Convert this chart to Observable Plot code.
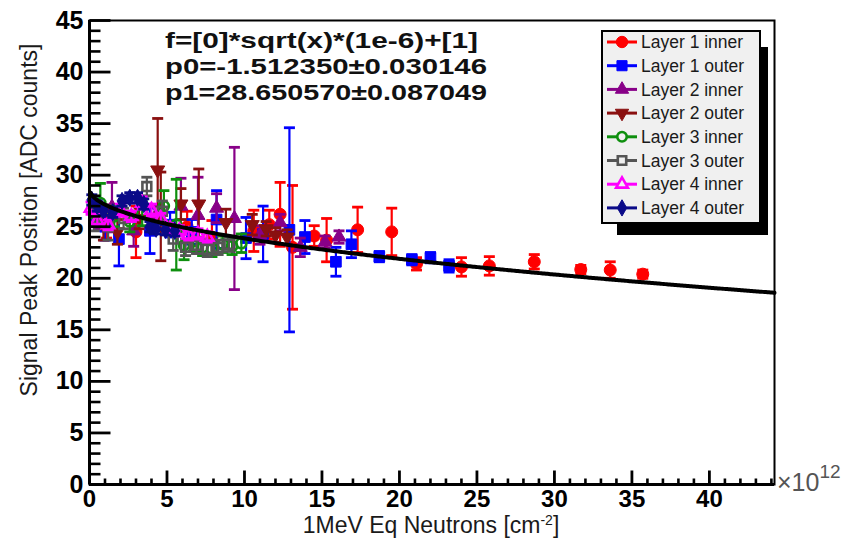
<!DOCTYPE html>
<html><head><meta charset="utf-8">
<script src="https://cdn.jsdelivr.net/npm/d3@7"></script>
<script src="https://cdn.jsdelivr.net/npm/@observablehq/plot@0.6"></script>
<style>
html,body{margin:0;padding:0;background:#fff;}
#chart{position:relative;width:850px;height:539px;overflow:hidden;}
</style></head><body><div id="chart"></div>
<script>
// ---------- data (x in units of 1e12 n/cm^2, y in ADC counts) ----------
const layerNames = ["Layer 1 inner","Layer 1 outer","Layer 2 inner","Layer 2 outer","Layer 3 inner","Layer 3 outer","Layer 4 inner","Layer 4 outer"];
const layerColors = ["#ff0000","#0000ff","#880088","#8a1010","#0e8f0e","#555555","#ff00ff","#0a0a88"];
const layerMarkers = ["circle","square","triangle","triangleDown","circleOpen","squareOpen","triangleOpen","diamond"];

const l1InnerX = [0.4,1.1,3.0,6.3,7.9,10.6,11.6,12.3,13.1,14.5,15.3,17.3,19.5,21.1,24.0,25.8,28.7,31.7,33.6,35.7];
const l1InnerY = [26.2,25.5,24.5,25.0,24.0,24.6,25.2,26.2,23.0,24.1,23.7,24.7,24.5,21.4,21.1,21.2,21.6,20.85,20.8,20.4];
const l1InnerE = [1.0,1.6,2.5,1.5,1.6,2.0,1.4,3.1,6.0,1.0,2.1,2.2,2.3,0.6,0.9,0.9,0.7,0.4,0.8,0.4];

const l1OuterX = [0.3,1.0,1.9,3.9,5.2,6.6,8.2,10.1,11.2,12.9,13.9,15.9,16.9,18.7,20.8,22.0,23.2];
const l1OuterY = [26.0,25.0,23.8,24.6,25.2,24.5,25.7,23.9,24.3,24.7,24.0,21.6,23.3,22.1,21.8,22.0,21.2];
const l1OuterE = [0.8,1.3,2.6,2.2,1.2,1.2,2.8,2.0,2.7,9.9,1.6,1.4,1.3,0.5,0.5,0.5,0.6];

const l2InnerX = [0.6,1.45,2.85,4.2,5.9,7.0,8.2,9.35,11.0,12.3,13.6,15.2,16.1];
const l2InnerY = [26.0,26.9,24.6,25.8,27.0,26.1,26.8,25.8,24.2,25.4,23.0,23.5,24.0];
const l2InnerE = [1.2,2.4,1.5,1.2,2.7,3.7,1.4,6.9,0.9,0.8,0.9,0.6,0.6];

const l2OuterX = [0.9,1.8,3.2,4.4,4.6,5.9,7.05,8.8,10.5,11.4,12.0,12.75];
const l2OuterY = [25.2,24.5,25.8,30.5,26.0,27.2,27.2,25.4,25.2,24.8,24.2,24.0];
const l2OuterE = [1.5,1.2,1.0,5.0,4.3,1.5,3.4,1.3,1.0,0.7,0.7,0.7];

const l3InnerX = [0.3,0.7,1.6,2.6,3.4,4.8,5.6,6.1,6.7,7.3,7.9,8.6,9.2,9.8];
const l3InnerY = [26.3,27.3,26.0,25.5,26.3,27.0,25.2,23.2,23.6,23.0,22.9,23.3,23.1,23.4];
const l3InnerE = [1.0,1.9,1.0,1.0,1.2,1.5,4.4,1.4,1.0,0.8,0.8,0.8,0.8,0.9];

const l3OuterX = [0.3,1.2,2.2,3.7,4.7,5.4,6.2,6.9,7.6,8.3,9.0];
const l3OuterY = [25.6,25.0,25.8,28.9,26.5,23.8,23.0,23.2,22.8,23.0,23.3];
const l3OuterE = [1.0,1.3,1.0,0.9,1.0,1.1,0.8,0.8,0.7,0.7,0.7];

const l4InnerX = [0.1,0.5,1.2,2.0,2.7,3.4,4.0,4.6,5.2,5.8,6.4,7.0,7.6];
const l4InnerY = [26.8,25.6,25.2,26.6,26.0,27.3,26.6,25.8,24.8,24.6,24.2,24.3,24.0];
const l4InnerE = [0.6,0.6,0.5,0.6,0.5,0.6,0.6,0.5,0.5,0.5,0.5,0.5,0.5];

const l4OuterX = [0.15,0.5,0.9,1.5,2.1,2.6,3.1,3.5,3.9,4.3,4.9,5.5];
const l4OuterY = [27.6,27.0,26.6,26.4,27.5,27.8,27.8,27.2,25.0,24.8,24.7,24.6];
const l4OuterE = [0.5,0.5,0.5,0.5,0.5,0.5,0.5,0.5,0.5,0.5,0.5,0.5];

// fit parameters: f = p0*sqrt(x)*(1e-6) + p1
const fitP0 = -1.512350, fitP0Err = 0.030146;
const fitP1 = 28.650570, fitP1Err = 0.087049;
const fitLines = ["f=[0]*sqrt(x)*(1e-6)+[1]", "p0=-1.512350\u00b10.030146", "p1=28.650570\u00b10.087049"];

const xMajorTicks = [0,5,10,15,20,25,30,35,40];
const yMajorTicks = [0,5,10,15,20,25,30,35,40,45];
const xDomain = [0, 44.2];
const yDomain = [0, 45];
const xTitle = "1MeV Eq Neutrons [cm";
const yTitle = "Signal Peak Position [ADC counts]";

// ---------- build ----------
const seriesX = [l1InnerX,l1OuterX,l2InnerX,l2OuterX,l3InnerX,l3OuterX,l4InnerX,l4OuterX];
const seriesY = [l1InnerY,l1OuterY,l2InnerY,l2OuterY,l3InnerY,l3OuterY,l4InnerY,l4OuterY];
const seriesE = [l1InnerE,l1OuterE,l2InnerE,l2OuterE,l3InnerE,l3OuterE,l4InnerE,l4OuterE];

const sqrt3 = Math.sqrt(3);
const triangleDown = {draw(ctx, size){
  const y = -Math.sqrt(size / (sqrt3 * 3));
  ctx.moveTo(0, -y * 2); ctx.lineTo(-sqrt3 * y, y); ctx.lineTo(sqrt3 * y, y); ctx.closePath();
}};
const symbolFor = {
  circle: d3.symbolCircle, square: d3.symbolSquare, triangle: d3.symbolTriangle,
  triangleDown: triangleDown, circleOpen: d3.symbolCircle, squareOpen: d3.symbolSquare,
  triangleOpen: d3.symbolTriangle, diamond: d3.symbolDiamond
};
const radiusFor = {circle:6, square:6, triangle:5.2, triangleDown:5.2, circleOpen:5, squareOpen:5, triangleOpen:4.6, diamond:5.2};
const isOpen = m => m.endsWith("Open");

const hLine = w => ({draw(ctx){ ctx.moveTo(-w/2,0); ctx.lineTo(w/2,0); }});
const tickRight = L => ({draw(ctx){ ctx.moveTo(0,0); ctx.lineTo(L,0); }});
const tickUp = L => ({draw(ctx){ ctx.moveTo(0,0); ctx.lineTo(0,-L); }});

const marks = [];
layerNames.forEach((name, i) => {
  const rows = seriesX[i].map((x, j) => ({x, y: seriesY[i][j], e: seriesE[i][j]}));
  const c = layerColors[i], m = layerMarkers[i];
  marks.push(Plot.ruleX(rows, {x: "x", y1: d => d.y - d.e, y2: d => d.y + d.e, stroke: c, strokeWidth: 2.2}));
  marks.push(Plot.dot(rows, {x: "x", y: d => d.y + d.e, symbol: hLine(11), r: 1, fill: "none", stroke: c, strokeWidth: 2.8}));
  marks.push(Plot.dot(rows, {x: "x", y: d => d.y - d.e, symbol: hLine(11), r: 1, fill: "none", stroke: c, strokeWidth: 2.8}));
  marks.push(Plot.dot(rows, {x: "x", y: "y", symbol: symbolFor[m], r: radiusFor[m],
    fill: isOpen(m) ? "none" : c, stroke: c, strokeWidth: isOpen(m) ? 2.6 : 1}));
});

const fitXs = d3.range(0.05, xDomain[1], 0.1).concat([xDomain[1]]);
const fitRows = fitXs.map(x => ({x, y: fitP1 + fitP0 * Math.sqrt(x)}));
marks.push(Plot.line(fitRows, {x: "x", y: "y", stroke: "black", strokeWidth: 4}));

// frame, axes, ticks
marks.push(Plot.frame({stroke: "black", strokeWidth: 2}));
marks.push(Plot.ruleX([0], {stroke: "black", strokeWidth: 3}));
marks.push(Plot.ruleY([0], {stroke: "black", strokeWidth: 3}));
const yMinor = d3.range(0, 46, 1).filter(v => v % 5 !== 0);
const xMinor = d3.range(0, 45, 1).filter(v => v % 5 !== 0);
marks.push(Plot.dot(yMinor, {y: d => d, frameAnchor: "left", symbol: tickRight(11), r: 1, fill: "none", stroke: "black", strokeWidth: 2.6}));
marks.push(Plot.dot(yMajorTicks, {y: d => d, frameAnchor: "left", symbol: tickRight(21), r: 1, fill: "none", stroke: "black", strokeWidth: 2.8}));
marks.push(Plot.dot(xMinor, {x: d => d, frameAnchor: "bottom", symbol: tickUp(6), r: 1, fill: "none", stroke: "black", strokeWidth: 2.6}));
marks.push(Plot.dot(xMajorTicks, {x: d => d, frameAnchor: "bottom", symbol: tickUp(14), r: 1, fill: "none", stroke: "black", strokeWidth: 2.8}));
marks.push(Plot.text(yMajorTicks, {y: d => d, text: d => String(d), frameAnchor: "left", dx: -6, textAnchor: "end",
  fontSize: 25, fontWeight: "bold", fill: "black"}));
marks.push(Plot.text(xMajorTicks, {x: d => d, text: d => String(d), frameAnchor: "bottom", dy: 15, lineAnchor: "middle",
  fontSize: 24, fontWeight: "bold", fill: "black"}));

const plot = Plot.plot({
  width: 850, height: 539,
  marginLeft: 89, marginRight: 76, marginTop: 20, marginBottom: 55,
  x: {domain: xDomain, axis: null},
  y: {domain: yDomain, axis: null},
  style: {fontFamily: "'Liberation Sans', Arial, sans-serif", background: "white", overflow: "visible"},
  marks
});
document.getElementById("chart").appendChild(plot);

// ---------- annotations (titles, fit box text, legend) ----------
const svg = d3.select(plot);
const g = svg.append("g").attr("font-family", "'Liberation Sans', Arial, sans-serif").attr("text-anchor", "start");

// y title
g.append("text").attr("transform", "translate(37,220) rotate(-90)").attr("text-anchor", "middle")
  .attr("font-size", 23).attr("fill", "#1a1a1a").text(yTitle);
// x title
const xt = g.append("text").attr("x", 431).attr("y", 533).attr("text-anchor", "middle")
  .attr("font-size", 23).attr("fill", "#1a1a1a");
xt.append("tspan").text(xTitle);
xt.append("tspan").attr("font-size", 14).attr("dy", -8).text("-2");
xt.append("tspan").attr("dy", 8).text("]");
// x10^12
const ex = g.append("text").attr("x", 777).attr("y", 491).attr("text-anchor", "start").attr("font-size", 25).attr("fill", "#555");
ex.append("tspan").text("\u00d710");
ex.append("tspan").attr("font-size", 19).attr("dy", -13).text("12");

// fit text
const fitBase = [48, 74, 100], fitLen = [313, 322, 322];
fitLines.forEach((t, i) => {
  g.append("text").attr("x", 165).attr("y", fitBase[i]).attr("text-anchor", "start").attr("font-size", 21.5).attr("font-weight", "bold")
    .attr("fill", "#111").attr("textLength", fitLen[i]).attr("lengthAdjust", "spacingAndGlyphs").text(t);
});

// legend
const lg = g.append("g");
lg.append("rect").attr("x", 617).attr("y", 47).attr("width", 151).attr("height", 188).attr("fill", "black");
lg.append("rect").attr("x", 602).attr("y", 31).attr("width", 158).attr("height", 192)
  .attr("fill", "#f0f0f0").attr("stroke", "black").attr("stroke-width", 2);
layerNames.forEach((name, i) => {
  const cy = 42 + i * 23.7, c = layerColors[i], m = layerMarkers[i];
  lg.append("line").attr("x1", 607).attr("x2", 637).attr("y1", cy).attr("y2", cy).attr("stroke", c).attr("stroke-width", 3);
  const r = radiusFor[m] * 0.95;
  lg.append("path").attr("transform", `translate(622,${cy})`)
    .attr("d", d3.symbol(symbolFor[m], Math.PI * r * r)())
    .attr("fill", isOpen(m) ? "#f0f0f0" : c).attr("stroke", c).attr("stroke-width", isOpen(m) ? 2.6 : 1);
  lg.append("text").attr("x", 641).attr("y", cy).attr("dy", "0.35em").attr("text-anchor", "start").attr("font-size", 17.5)
    .attr("fill", "#1a1a1a").text(name);
});
</script></body></html>
